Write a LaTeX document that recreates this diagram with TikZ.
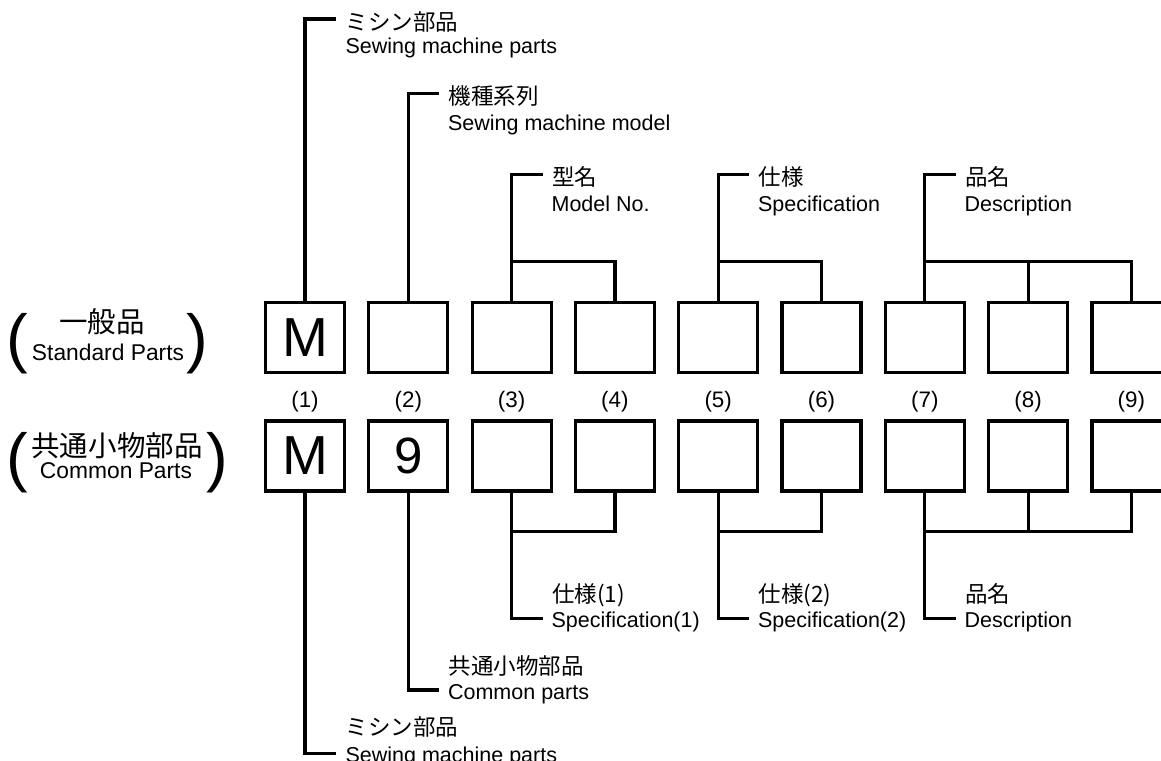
\documentclass[tikz,border=0pt]{standalone}
\usepackage{fontspec}
\setmainfont{Liberation Sans}
\newfontfamily\jp{Noto Sans CJK JP}
\begin{document}
\begin{tikzpicture}[x=0.5pt,y=-0.5pt,line width=1.6pt,
  cell/.style={draw,minimum width=39.5pt,minimum height=35pt,inner sep=0pt,font=\fontsize{27.5}{30}\selectfont},
  nine/.style={font=\fontsize{25.5}{28}\selectfont},
  num/.style={inner sep=0pt,font=\fontsize{11.2}{13}\selectfont},
  en/.style={inner sep=0pt,anchor=base west,font=\fontsize{10.75}{13}\selectfont},
  jpl/.style={inner sep=0pt,anchor=base west,font=\jp\fontsize{11.25}{13}\selectfont},
  lefttitle/.style={inner sep=0pt,anchor=base,font=\jp\fontsize{14.25}{16}\selectfont},
  leftsub/.style={inner sep=0pt,anchor=base,font=\fontsize{11.4}{13}\selectfont},
  bigparen/.style={inner sep=0pt,font=\fontsize{32.5}{34}\selectfont}]
\useasboundingbox (0,0) rectangle (1161,760);
\clip (0,0) rectangle (1161,760);
% boxes
\foreach \i in {1,...,9}{
  \pgfmathsetmacro{\cx}{305+103.3*(\i-1)}
  \node[cell] (t\i) at (\cx,337.5) {};
  \node[cell] (b\i) at (\cx,456) {};
  \node[num] (n\i) at (\cx,402) {(\i)};
}
\node[cell] at (t1) {M};
\node[cell] at (b1) {M};
\node[cell,nine] at (b2) {9};
% left labels
\node[bigparen] (lp1) at (17.5,343.5) {(};
\node[bigparen] (rp1) at (197.5,343.5) {)};
\node[lefttitle] (st1) at (102,332.5) {一般品};
\node[leftsub] (st2) at (108,360) {Standard Parts};
\node[bigparen] (lp2) at (17.5,462.5) {(};
\node[bigparen] (rp2) at (217.5,462.5) {)};
\node[lefttitle] (ct1) at (117,456) {共通小物部品};
\node[leftsub] (ct2) at (116,478.3) {Common Parts};
% top label coordinates
\coordinate (s1) at (336,19);
\coordinate (s2) at (439,93.3);
\coordinate (s3) at (542.6,174.5);
\coordinate (s5) at (749.2,174.5);
\coordinate (s7) at (955.8,174.5);
\coordinate (c3) at (511.6,261.7);
\coordinate (c5) at (718.2,261.7);
\coordinate (c7) at (924.8,261.7);
% top labels
\node[jpl] (a1) at (344,30) {ミシン部品};
\node[en] (a1e) at (344,54) {Sewing machine parts};
\node[jpl] (a2) at (447,104.3) {機種系列};
\node[en] (a2e) at (446.5,130.3) {Sewing machine model};
\node[jpl] (a3) at (550.6,185.5) {型名};
\node[en] (a3e) at (550,211.5) {Model No.};
\node[jpl] (a5) at (757,185.5) {仕様};
\node[en] (a5e) at (756.5,211.5) {Specification};
\node[jpl] (a7) at (963.8,185.5) {品名};
\node[en] (a7e) at (963,211.5) {Description};
% top connectors
\draw (t1.north) |- (s1);
\draw (t2.north) |- (s2);
\draw (t3.north) |- (s3);
\draw (t4.north) |- (c3);
\draw (t5.north) |- (s5);
\draw (t6.north) |- (c5);
\draw (t7.north) |- (s7);
\draw (t9.north) |- (c7);
\draw (t8.north) -- (t8.north |- c7);
% bottom label coordinates
\coordinate (u1) at (336,753.3);
\coordinate (u2) at (439,690);
\coordinate (u3) at (542.6,618.3);
\coordinate (u5) at (749.2,618.3);
\coordinate (u7) at (955.8,618.3);
\coordinate (d3) at (511.6,531.7);
\coordinate (d5) at (718.2,531.7);
\coordinate (d7) at (924.8,531.7);
% bottom labels
\node[jpl] (e1) at (344,735.5) {ミシン部品};
\node[en] (e1e) at (344,762.3) {Sewing machine parts};
\node[jpl] (e2) at (447,674.5) {共通小物部品};
\node[en] (e2e) at (446.5,699) {Common parts};
\node[jpl] (e3) at (550.6,602.7) {仕様(1)};
\node[en] (e3e) at (550,627.3) {Specification(1)};
\node[jpl] (e5) at (757,602.7) {仕様(2)};
\node[en] (e5e) at (756.5,627.3) {Specification(2)};
\node[jpl] (e7) at (963.8,602.7) {品名};
\node[en] (e7e) at (963,627.3) {Description};
% bottom connectors
\draw (b1.south) |- (u1);
\draw (b2.south) |- (u2);
\draw (b3.south) |- (u3);
\draw (b4.south) |- (d3);
\draw (b5.south) |- (u5);
\draw (b6.south) |- (d5);
\draw (b7.south) |- (u7);
\draw (b9.south) |- (d7);
\draw (b8.south) -- (b8.south |- d7);
\end{tikzpicture}
\end{document}
